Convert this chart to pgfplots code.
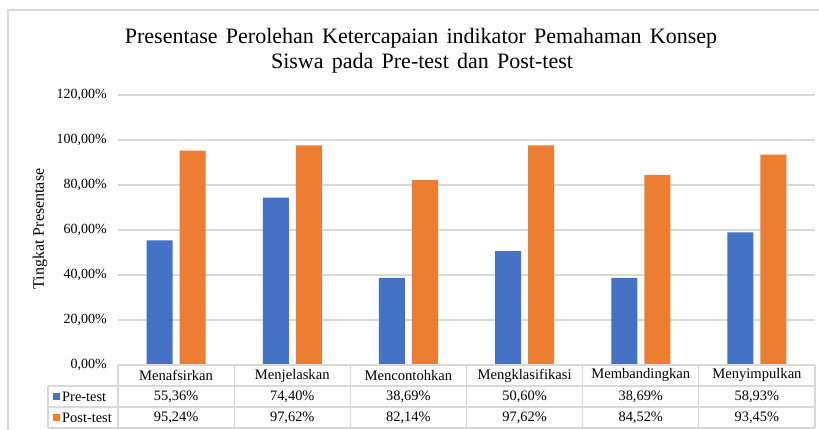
\documentclass[border=0pt]{standalone}
\usepackage{pgfplots}
\pgfplotsset{compat=1.18}
\usepackage{fontspec}
\setmainfont{Liberation Serif}
\newfontfamily\titlefont{Liberation Serif}[WordSpace=1.5]
\definecolor{preblue}{HTML}{4472C4}
\definecolor{postorange}{HTML}{ED7D31}
\definecolor{gridgray}{HTML}{D9D9D9}
\begin{document}
\begin{tikzpicture}[x=1pt,y=1pt]
\useasboundingbox (0,0) rectangle (819,430);
% outer frame
\draw[gridgray, line width=1.2pt] (8,0) -- (8,420) -- (819,420);
% title
\node[font=\titlefont\fontsize{22}{25}\selectfont] at (421,392) {Presentase Perolehan Ketercapaian indikator Pemahaman Konsep};
\node[font=\titlefont\fontsize{22}{25}\selectfont] at (422,367) {Siswa pada Pre-test dan Post-test};
% y label
\node[rotate=90, font=\fontsize{16}{18}\selectfont] at (40,201) {Tingkat Presentase};
\begin{axis}[
  at={(118pt,65pt)}, anchor=south west,
  scale only axis, width=697pt, height=270pt,
  ybar=7pt, bar width=26pt,
  xmin=-0.5, xmax=5.5, ymin=0, ymax=120,
  xtick=\empty,
  ytick={0,20,40,60,80,100,120},
  yticklabels={{0,00\%},{20,00\%},{40,00\%},{60,00\%},{80,00\%},{100,00\%},{120,00\%}},
  yticklabel style={font=\fontsize{14}{16}\selectfont, anchor=east, inner sep=0pt, xshift=-11pt},
  ymajorgrids, grid style={gridgray, line width=1.2pt},
  major tick length=0pt,
  axis line style={draw=none},
  clip=false,
]
\addplot[fill=preblue, draw=none] coordinates {(0,55.36) (1,74.40) (2,38.69) (3,50.60) (4,38.69) (5,58.93)};
\addplot[fill=postorange, draw=none] coordinates {(0,95.24) (1,97.62) (2,82.14) (3,97.62) (4,84.52) (5,93.45)};
\end{axis}
% data table
\def\colw{116.1667}
\draw[gridgray, line width=1.2pt] (118,65) -- (815,65);
\draw[gridgray, line width=1.2pt] (48,44) -- (815,44);
\draw[gridgray, line width=1.2pt] (48,23) -- (815,23);
\draw[gridgray, line width=1.2pt] (48,2) -- (815,2);
\draw[gridgray, line width=1.2pt] (48,44) -- (48,2);
\foreach \k in {0,...,6} {
  \draw[gridgray, line width=1.2pt] ({118+\k*\colw},65) -- ({118+\k*\colw},2);
}
\foreach \name [count=\i from 0] in {Menafsirkan,Menjelaskan,Mencontohkan,Mengklasifikasi,Membandingkan,Menyimpulkan} {
  \node[font=\fontsize{14.6}{16}\selectfont] at ({118+(\i+0.5)*\colw},54.5) {\name};
}
\foreach \v [count=\i from 0] in {{55,36\%},{74,40\%},{38,69\%},{50,60\%},{38,69\%},{58,93\%}} {
  \node[font=\fontsize{14.4}{16}\selectfont] at ({118+(\i+0.5)*\colw},33.5) {\v};
}
\foreach \v [count=\i from 0] in {{95,24\%},{97,62\%},{82,14\%},{97,62\%},{84,52\%},{93,45\%}} {
  \node[font=\fontsize{14.4}{16}\selectfont] at ({118+(\i+0.5)*\colw},12.5) {\v};
}
\fill[preblue] (53,30) rectangle (60,37);
\node[anchor=west, inner sep=0pt, font=\fontsize{14.4}{16}\selectfont] at (62,33.5) {Pre-test};
\fill[postorange] (53,9) rectangle (60,16);
\node[anchor=west, inner sep=0pt, font=\fontsize{14.4}{16}\selectfont] at (62,12.5) {Post-test};
\end{tikzpicture}
\end{document}
